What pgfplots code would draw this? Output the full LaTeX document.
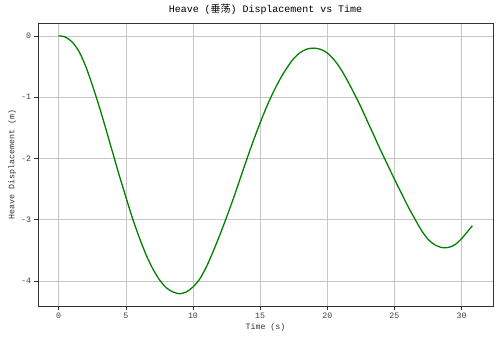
\documentclass[border=0pt]{standalone}
\usepackage{fontspec}
\setmainfont{Liberation Mono}
\newfontfamily\cjk{Noto Sans CJK SC}
\usepackage{pgfplots}
\pgfplotsset{compat=1.18}
\definecolor{mplgreen}{HTML}{008000}
\begin{document}
\begin{tikzpicture}
\useasboundingbox (-38bp,-35bp) rectangle (462bp,306bp);
\begin{axis}[
  at={(0,0)}, anchor=south west,
  scale only axis,
  width=455bp, height=283bp,
  xmin=-1.54, xmax=32.34,
  ymin=-4.41, ymax=0.21,
  xtick={0,5,10,15,20,25,30},
  ytick={-4,-3,-2,-1,0},
  xtick pos=left, ytick pos=left,
  tick align=outside,
  major tick length=3.5bp,
  tick style={black!80, line width=0.6pt},
  axis line style={black!80, line width=0.8pt},
  grid=major,
  grid style={gray!45, line width=0.6pt},
  /pgf/number format/assume math mode=true,
  ticklabel style={font=\fontsize{8.3}{9}\selectfont, text=black!75},
  title={Heave ({\cjk 垂荡}) Displacement vs Time},
  title style={font=\fontsize{10}{12}\selectfont, yshift=-1bp},
  xlabel={Time (s)},
  ylabel={Heave Displacement (m)},
  label style={font=\fontsize{8.3}{10}\selectfont, text=black!80},
  xlabel style={yshift=2bp},
  ylabel style={yshift=-2bp},
]
\addplot[mplgreen, line width=1.3pt, smooth] coordinates {
(0,0) (0.5,-0.02) (1.0,-0.10) (1.5,-0.25) (2.0,-0.49) (2.5,-0.80)
(3.0,-1.14) (3.5,-1.51) (4.0,-1.89) (4.5,-2.27) (5.0,-2.63) (5.5,-2.98)
(6.0,-3.29) (6.5,-3.57) (7.0,-3.80) (7.5,-3.98) (8.0,-4.11) (8.5,-4.18)
(9.0,-4.21) (9.5,-4.18) (10.0,-4.10) (10.5,-3.97) (11.0,-3.77) (11.5,-3.52)
(12.0,-3.25) (12.5,-2.96) (13.0,-2.66) (13.5,-2.34) (14.0,-2.02) (14.5,-1.71)
(15.0,-1.42) (15.5,-1.15) (16.0,-0.91) (16.5,-0.70) (17.0,-0.52) (17.5,-0.37)
(18.0,-0.27) (18.5,-0.215) (19.0,-0.20) (19.5,-0.22) (20.0,-0.28) (20.5,-0.39)
(21.0,-0.54) (21.5,-0.73) (22.0,-0.94) (22.5,-1.16) (23.0,-1.40) (23.5,-1.64)
(24.0,-1.88) (24.5,-2.11) (25.0,-2.34) (25.5,-2.56) (26.0,-2.78) (26.5,-2.98)
(27.0,-3.17) (27.5,-3.32) (28.0,-3.41) (28.5,-3.455) (29.0,-3.455) (29.5,-3.41)
(30.0,-3.31) (30.5,-3.18) (30.8,-3.10)
};
\end{axis}
\end{tikzpicture}
\end{document}
